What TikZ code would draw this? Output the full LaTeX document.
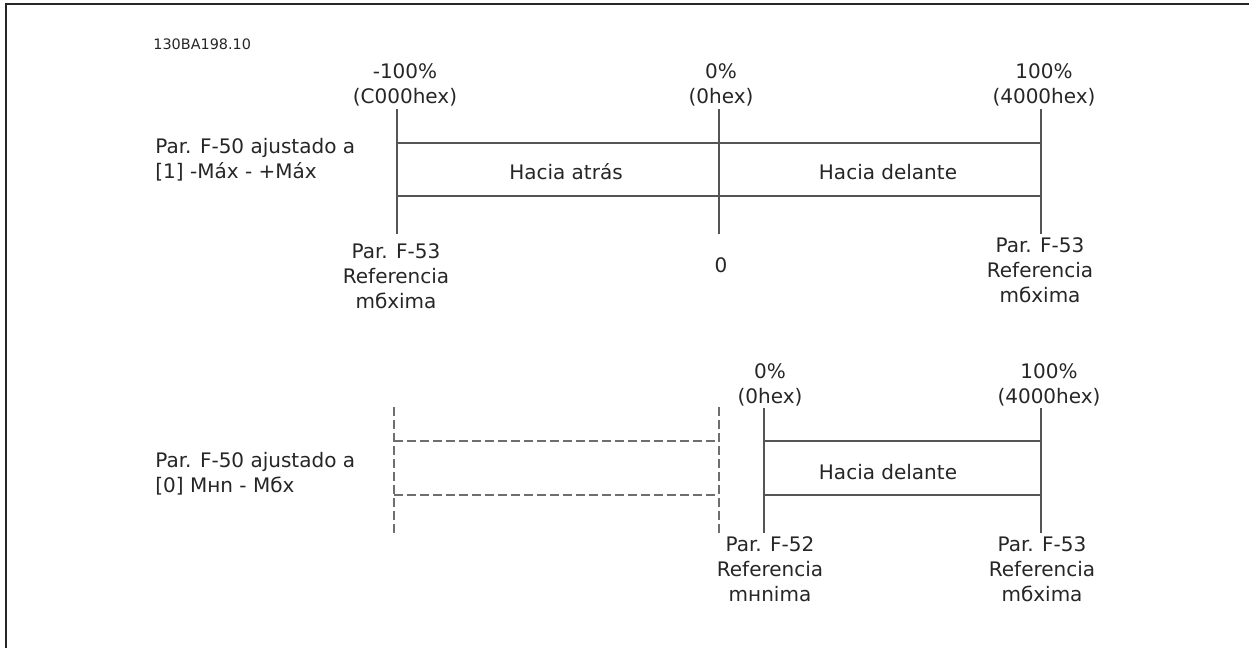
\documentclass[tikz,border=0pt]{standalone}
\usepackage{fontspec}
\setmainfont{DejaVu Sans}
\usetikzlibrary{positioning}
\definecolor{linegray}{HTML}{555555}
\definecolor{dashgray}{HTML}{6E6E6E}
\definecolor{textgray}{HTML}{262626}
\tikzset{
  scaleline/.style={draw=linegray, line width=0.8pt},
  ghostline/.style={draw=dashgray, line width=0.8pt, dash pattern=on 4.5pt off 2pt},
  lbl/.style={text=textgray, font=\fontsize{10}{12.5}\selectfont, align=center, inner sep=0pt},
  sidelbl/.style={lbl, align=left, anchor=west},
  idlbl/.style={text=textgray, font=\fontsize{7.2}{8}\selectfont, anchor=west, inner sep=0pt}
}

\begin{document}
\begin{tikzpicture}[x=0.5pt, y=-0.5pt]
\useasboundingbox (0,0) rectangle (1249,648);
% frame
\coordinate (fa) at (6,648);
\coordinate (fb) at (6,4);
\coordinate (fc) at (1249,4);
\draw[line width=1pt, textgray] (fa) -- (fb) -- (fc);
\node[idlbl] (drawno) at (153,44) {130BA198.10};

% upper scale: -Max .. +Max
\coordinate (uLt) at (397,109); \coordinate (uLb) at (397,234);
\coordinate (uMt) at (719,109); \coordinate (uMb) at (719,234);
\coordinate (uRt) at (1041,109); \coordinate (uRb) at (1041,234);
\draw[scaleline] (uLt) -- (uLb);
\draw[scaleline] (uMt) -- (uMb);
\draw[scaleline] (uRt) -- (uRb);
\draw[scaleline] (uLt |- 0,143) -- (uRt |- 0,143);
\draw[scaleline] (uLt |- 0,196) -- (uRt |- 0,196);
\node[sidelbl] (uside) at (155,160) {Par. F-50 ajustado a\\\relax [1] -Máx - +Máx};
\node[lbl] (uLtop) at (405,84.5) {-100\%\\(C000hex)};
\node[lbl] (uMtop) at (721,84.5) {0\%\\(0hex)};
\node[lbl] (uRtop) at (1044,84.5) {100\%\\(4000hex)};
\node[lbl] (back) at (566,172) {Hacia atrás};
\node[lbl] (fwdu) at (888,172) {Hacia delante};
\node[lbl] (uLbot) at (396,276) {Par. F-53\\Referencia\\mбxima};
\node[lbl] (uMbot) at (721,265) {0};
\node[lbl] (uRbot) at (1040,270) {Par. F-53\\Referencia\\mбxima};

% lower scale: Min .. Max
\coordinate (gLt) at (394,407); \coordinate (gLb) at (394,533);
\coordinate (gRt) at (719,407); \coordinate (gRb) at (719,533);
\draw[ghostline] (gLt) -- (gLb);
\draw[ghostline] (gRt) -- (gRb);
\draw[ghostline] (gLt |- 0,441) -- (gRt |- 0,441);
\draw[ghostline] (gLt |- 0,495) -- (gRt |- 0,495);
\coordinate (lLt) at (764,408); \coordinate (lLb) at (764,533);
\coordinate (lRt) at (1041,408); \coordinate (lRb) at (1041,533);
\draw[scaleline] (lLt) -- (lLb);
\draw[scaleline] (lRt) -- (lRb);
\draw[scaleline] (lLt |- 0,441) -- (lRt |- 0,441);
\draw[scaleline] (lLt |- 0,495) -- (lRt |- 0,495);
\node[sidelbl] (lside) at (155,473.5) {Par. F-50 ajustado a\\\relax [0] Mнn - Mбx};
\node[lbl] (lLtop) at (770,384.5) {0\%\\(0hex)};
\node[lbl] (lRtop) at (1049,384.5) {100\%\\(4000hex)};
\node[lbl] (fwdl) at (888,472) {Hacia delante};
\node[lbl] (lLbot) at (770,569) {Par. F-52\\Referencia\\mнnima};
\node[lbl] (lRbot) at (1042,569) {Par. F-53\\Referencia\\mбxima};
\end{tikzpicture}
\end{document}
